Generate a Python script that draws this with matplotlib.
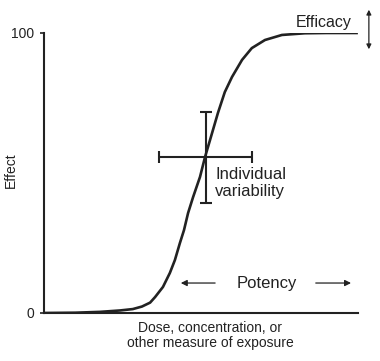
import matplotlib.pyplot as plt

plt.rcParams['font.family'] = ['Liberation Sans', 'DejaVu Sans']
ink = '#222222'

# dose-response curve (dose 0-100, effect 0-100)
dose = [0, 10, 17.8, 24.2, 28.3, 31.2, 33.8, 35.4, 37.9, 40.1, 41.7, 43.3,
        44.6, 45.9, 47.5, 49.7, 51.3, 52.9, 55.4, 57.6, 59.9, 63.1, 66.2,
        70.4, 75.8, 83.1, 90, 100]
effect = [0, 0.1, 0.4, 0.9, 1.4, 2.3, 3.7, 5.7, 9.3, 14.3, 18.9, 25.0,
          29.6, 35.7, 41.4, 48.6, 55.7, 61.8, 71.4, 78.9, 84.3, 90.4, 94.6,
          97.5, 99.3, 99.9, 100, 100]

# individual variability cross
cross_x, cross_y = 51.6, 55.7
cross_xerr = [[15.0], [14.6]]
cross_yerr = [[16.4], [16.1]]

fig = plt.figure(figsize=(3.8, 3.61), dpi=100)
ax = fig.add_axes([0.1158, 0.133, 0.826, 0.7756])

ax.plot(dose, effect, color=ink, lw=1.9, solid_joinstyle='round',
        solid_capstyle='butt')
ax.errorbar([cross_x], [cross_y], xerr=cross_xerr, yerr=cross_yerr,
            fmt='none', ecolor=ink, elinewidth=1.5, capsize=4.3, capthick=1.5)

ax.set_xlim(0, 100)
ax.set_ylim(0, 100)
ax.spines['top'].set_visible(False)
ax.spines['right'].set_visible(False)
ax.spines['left'].set_linewidth(1.5)
ax.spines['bottom'].set_linewidth(1.5)
ax.spines['left'].set_color(ink)
ax.spines['bottom'].set_color(ink)
ax.set_xticks([])
ax.set_yticks([0, 100])
ax.set_yticklabels(['0', '100'])
ax.tick_params(axis='y', length=3, width=1.2, pad=4, labelsize=10,
               colors=ink)

ax.set_xlabel('Dose, concentration, or\nother measure of exposure',
              fontsize=10, color=ink, linespacing=1.1)
ax.xaxis.set_label_coords(0.53, -0.03)
ax.xaxis.label.set_va('top')
ax.set_ylabel('Effect', fontsize=10, color=ink)
ax.yaxis.set_label_coords(-0.083, 0.51)

ax.text(54.5, 46.4, 'Individual\nvariability', fontsize=12, color=ink,
        ha='left', va='center', linespacing=1.15)

# potency arrows
ax.text(71.0, 10.7, 'Potency', fontsize=12, color=ink, ha='center',
        va='center')
ax.annotate('', xy=(42.7, 10.7), xytext=(55.4, 10.7),
            arrowprops=dict(arrowstyle='-|>', color=ink, lw=0.9,
                            mutation_scale=9))
ax.annotate('', xy=(98.7, 10.7), xytext=(85.7, 10.7),
            arrowprops=dict(arrowstyle='-|>', color=ink, lw=0.9,
                            mutation_scale=9))

# efficacy
ax.text(89.2, 103.9, 'Efficacy', fontsize=11.5, color=ink, ha='center',
        va='center', clip_on=False)
ax.annotate('', xy=(103.5, 109.3), xytext=(103.5, 93.2),
            arrowprops=dict(arrowstyle='<|-|>', color=ink, lw=0.9,
                            mutation_scale=7),
            annotation_clip=False)

fig.savefig('out.png', dpi=100)
